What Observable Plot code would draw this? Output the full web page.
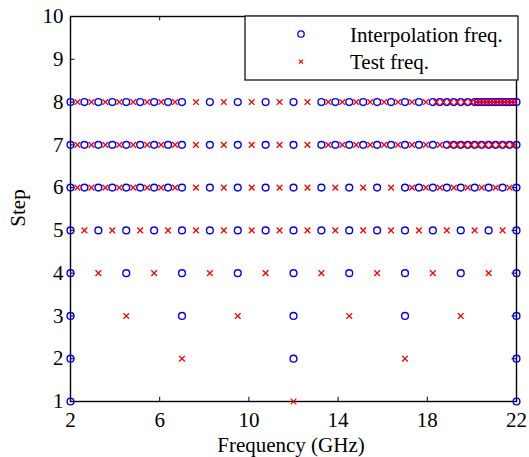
<!DOCTYPE html>
<html><head><meta charset="utf-8">
<script src="https://cdn.jsdelivr.net/npm/d3@7"></script>
<script src="https://cdn.jsdelivr.net/npm/@observablehq/plot@0.6"></script>
<style>body{margin:0;background:#fff} svg{display:block} svg text{font-family:"Liberation Serif","Tinos","Times New Roman",Times,"DejaVu Serif",serif !important}</style>
</head><body><div id="chart"></div>
<script>
// ---- data (GHz) per refinement step ----
const interp1 = [2, 22];
const test1 = [12];
const interp2 = [2, 12, 22];
const test2 = [7, 17];
const interp3 = [2, 7, 12, 17, 22];
const test3 = [4.5, 9.5, 14.5, 19.5];
const interp4 = [2, 4.5, 7, 9.5, 12, 14.5, 17, 19.5, 22];
const test4 = [3.25, 5.75, 8.25, 10.75, 13.25, 15.75, 18.25, 20.75];
const interp5 = [2, 3.25, 4.5, 5.75, 7, 8.25, 9.5, 10.75, 12, 13.25, 14.5, 15.75, 17, 18.25, 19.5, 20.75, 22];
const test5 = [2.625, 3.875, 5.125, 6.375, 7.625, 8.875, 10.125, 11.375, 12.625, 13.875, 15.125, 16.375, 17.625, 18.875, 20.125, 21.375];
const interp6 = [2, 2.625, 3.25, 3.875, 4.5, 5.125, 5.75, 6.375, 7, 8.25, 9.5, 10.75, 12, 13.25, 14.5, 15.75, 17, 17.625, 18.25, 18.875, 19.5, 20.125, 20.75, 21.375, 22];
const test6 = [2.3125, 2.9375, 3.5625, 4.1875, 4.8125, 5.4375, 6.0625, 6.6875, 7.625, 8.875, 10.125, 11.375, 12.625, 13.875, 15.125, 16.375, 17.3125, 17.9375, 18.5625, 19.1875, 19.8125, 20.4375, 21.0625, 21.6875];
const interp7 = [2, 2.625, 3.25, 3.875, 4.5, 5.125, 5.75, 6.375, 7, 8.25, 9.5, 10.75, 12, 13.25, 13.875, 14.5, 15.125, 15.75, 16.375, 17, 17.625, 18.25, 18.875, 19.1875, 19.5, 19.8125, 20.125, 20.4375, 20.75, 21.0625, 21.375, 21.6875, 22];
const test7 = [2.3125, 2.9375, 3.5625, 4.1875, 4.8125, 5.4375, 6.0625, 6.6875, 7.625, 8.875, 10.125, 11.375, 12.625, 13.5625, 14.1875, 14.8125, 15.4375, 16.0625, 16.6875, 17.3125, 17.9375, 18.5625, 19.03125, 19.34375, 19.65625, 19.96875, 20.28125, 20.59375, 20.90625, 21.21875, 21.53125, 21.84375];
const interp8 = [2, 2.625, 3.25, 3.875, 4.5, 5.125, 5.75, 6.375, 7, 8.25, 9.5, 10.75, 12, 13.25, 13.875, 14.5, 15.125, 15.75, 16.375, 17, 17.625, 18.25, 18.5625, 18.875, 19.1875, 19.5, 19.8125, 20.125, 20.28125, 20.4375, 20.59375, 20.75, 20.90625, 21.0625, 21.21875, 21.375, 21.53125, 21.6875, 21.84375, 22];
const test8 = [2.3125, 2.9375, 3.5625, 4.1875, 4.8125, 5.4375, 6.0625, 6.6875, 7.625, 8.875, 10.125, 11.375, 12.625, 13.5625, 14.1875, 14.8125, 15.4375, 16.0625, 16.6875, 17.3125, 17.9375, 18.40625, 18.71875, 19.03125, 19.34375, 19.65625, 19.96875, 20.203125, 20.359375, 20.515625, 20.671875, 20.828125, 20.984375, 21.140625, 21.296875, 21.453125, 21.609375, 21.765625, 21.921875];

const interpSteps = [interp1, interp2, interp3, interp4, interp5, interp6, interp7, interp8];
const testSteps = [test1, test2, test3, test4, test5, test6, test7, test8];

const xTicks = [2, 6, 10, 14, 18, 22];
const yTicks = [1, 2, 3, 4, 5, 6, 7, 8, 9, 10];
const xLabel = "Frequency (GHz)";
const yLabel = "Step";
const legendLabels = ["Interpolation freq.", "Test freq."];

const interpRows = interpSteps.flatMap((arr, i) => arr.map(f => ({freq: f, step: i + 1})));
const testRows = testSteps.flatMap((arr, i) => arr.map(f => ({freq: f, step: i + 1})));

const FONT = '"Liberation Serif","Tinos","Times New Roman",Times,"DejaVu Serif",serif';
const BLUE = "#0000ff", RED = "#ff0000";

const chart = Plot.plot({
  width: 529, height: 457,
  marginLeft: 70, marginRight: 13, marginTop: 16, marginBottom: 56,
  x: {domain: [2, 22]},
  y: {domain: [1, 10]},
  style: {fontFamily: FONT, fontSize: "21px", background: "white", color: "black"},
  marks: [
    // inward ticks
    Plot.ruleX(xTicks, {x: d => d, y1: 1, y2: 1.1, stroke: "black", strokeWidth: 1}),
    Plot.ruleX(xTicks, {x: d => d, y1: 10, y2: 9.9, stroke: "black", strokeWidth: 1}),
    Plot.ruleY(yTicks, {y: d => d, x1: 2, x2: 2.2, stroke: "black", strokeWidth: 1}),
    Plot.ruleY(yTicks, {y: d => d, x1: 22, x2: 21.8, stroke: "black", strokeWidth: 1}),
    Plot.frame({stroke: "black", strokeWidth: 1.4}),
    Plot.dot(interpRows, {x: "freq", y: "step", r: 3.4, stroke: BLUE, strokeWidth: 1.4, fill: "none"}),
    Plot.dot(testRows, {x: "freq", y: "step", symbol: "times", r: 2.7, stroke: RED, strokeWidth: 1.3}),
    Plot.axisX(xTicks, {tickSize: 0, tickPadding: 11, fontSize: 21, label: null}),
    Plot.axisY(yTicks, {tickSize: 0, tickPadding: 7, fontSize: 21, label: null})
  ]
});
document.getElementById("chart").appendChild(chart);

const svg = d3.select(chart);
svg.selectAll("text").style("font-family", FONT);

// axis titles
svg.append("text").attr("x", 291).attr("y", 452).attr("text-anchor", "middle")
  .style("font-family", FONT).attr("font-size", 21).attr("fill", "black").text(xLabel);
svg.append("text").attr("transform", "translate(25,208) rotate(-90)").attr("text-anchor", "middle")
  .style("font-family", FONT).attr("font-size", 21).attr("fill", "black").text(yLabel);

// legend
const lg = svg.append("g").attr("text-anchor", "start");
lg.append("rect").attr("x", 245).attr("y", 16).attr("width", 273).attr("height", 64)
  .attr("fill", "white").attr("stroke", "black").attr("stroke-width", 1.2);
lg.append("circle").attr("cx", 301).attr("cy", 34).attr("r", 3.2)
  .attr("fill", "none").attr("stroke", BLUE).attr("stroke-width", 1.3);
lg.append("path").attr("d", "M299,59.7L303,63.7M303,59.7L299,63.7")
  .attr("stroke", RED).attr("stroke-width", 1.2).attr("fill", "none");
lg.append("text").attr("x", 350).attr("y", 41.5).attr("text-anchor", "start").style("font-family", FONT).attr("font-size", 21)
  .attr("fill", "black").text(legendLabels[0]);
lg.append("text").attr("x", 350).attr("y", 69).attr("text-anchor", "start").style("font-family", FONT).attr("font-size", 21)
  .attr("fill", "black").text(legendLabels[1]);
</script>
</body></html>
